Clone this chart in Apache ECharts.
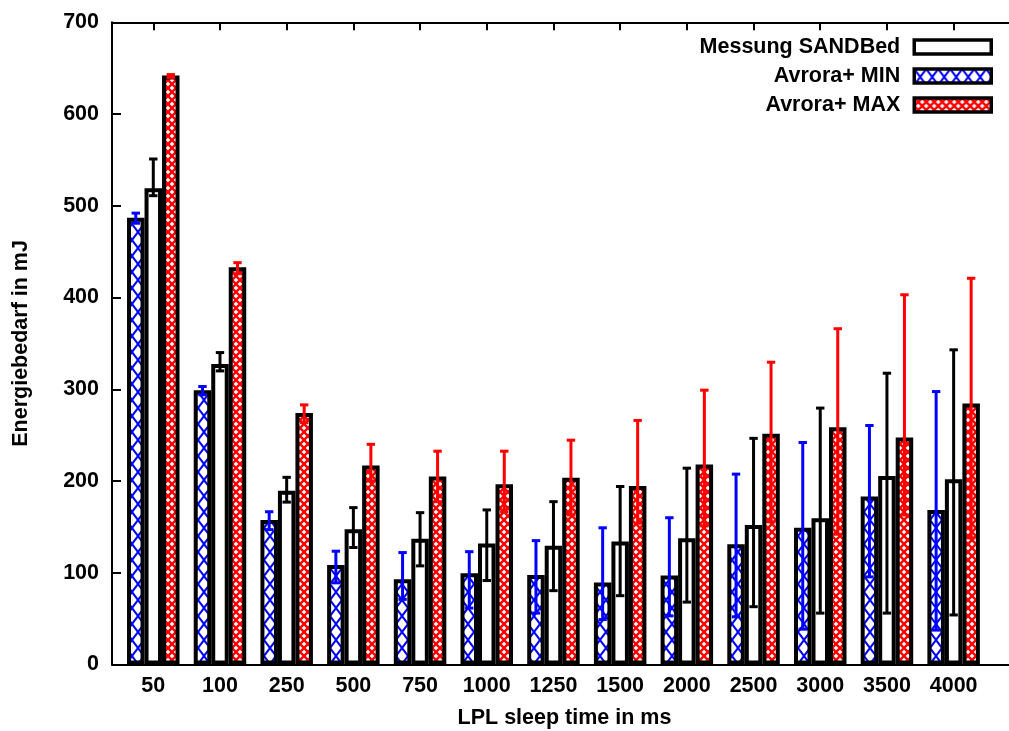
<!DOCTYPE html>
<html>
<head>
<meta charset="utf-8">
<script src="https://cdn.jsdelivr.net/npm/echarts@6/dist/echarts.min.js"></script>
<style>
  html, body { margin: 0; padding: 0; background: #fff; }
  #chart { width: 1009px; height: 731px; }
</style>
</head>
<body>
<div id="chart"></div>
<script>
// LPL sleep time categories (ms)
const categories = ['50', '100', '250', '500', '750', '1000', '1250', '1500', '2000', '2500', '3000', '3500', '4000'];

// Avrora+ MIN: mean energy and error range (mJ)
const minVals = [487, 299, 157.5, 108.5, 93, 99.5, 97.5, 89.5, 97, 131, 149, 183, 168.5];
const minLow  = [481, 294, 147, 89, 71, 61.5, 56, 49, 53, 52, 38.5, 95.5, 37.5];
const minHigh = [492, 303, 166.5, 123.5, 122, 123, 135, 149, 160, 207.5, 242, 260.5, 297.5];

// Messung SANDBed: measured energy and error range (mJ)
const sandVals = [519, 327.5, 189.5, 147.5, 137, 132, 129.5, 134, 137.5, 152, 159.5, 205.5, 202];
const sandLow  = [511, 320, 177, 127.5, 107.5, 91.5, 80.5, 75, 68, 63, 56, 56, 54];
const sandHigh = [551, 340, 204, 171, 165.5, 168.5, 177.5, 194, 214, 246.5, 279.5, 317.5, 343];

// Avrora+ MAX: mean energy and error range (mJ)
const maxVals = [642, 433, 274, 217, 205, 196.5, 203.5, 194.5, 218, 251.5, 258.5, 247.5, 284.5];
const maxLow  = [640, 426, 263.5, 200, 177.5, 166.5, 163, 154, 151, 155.5, 142, 163, 138];
const maxHigh = [643, 438, 283, 240, 232.5, 232.5, 244.5, 266, 299, 329.5, 366, 403, 421];

// Y axis ticks
const yTicks = [0, 100, 200, 300, 400, 500, 600, 700];

const FONT = "'Liberation Sans', Arial, Helvetica, sans-serif";
const FONT_SIZE = 21.5;
const BAR_W = 17.5;

// Hatch fill: blue diagonal cross on white
function makeCrossPattern() {
  const c = document.createElement('canvas');
  c.width = 12; c.height = 16;
  const g = c.getContext('2d');
  g.fillStyle = '#fff';
  g.fillRect(0, 0, 12, 16);
  g.strokeStyle = '#0000ff';
  g.lineWidth = 2;
  g.beginPath();
  g.moveTo(0, 0); g.lineTo(12, 16);
  g.moveTo(12, 0); g.lineTo(0, 16);
  g.stroke();
  return c;
}

// Hatch fill: dense red crosshatch leaving small white diamonds
function makeDensePattern() {
  const s = 8;
  const c = document.createElement('canvas');
  c.width = s; c.height = s;
  const g = c.getContext('2d');
  g.fillStyle = '#fff';
  g.fillRect(0, 0, s, s);
  g.strokeStyle = '#ff0000';
  g.lineWidth = 2.4;
  g.beginPath();
  g.moveTo(-1, -1); g.lineTo(s + 1, s + 1);
  g.moveTo(s + 1, -1); g.lineTo(-1, s + 1);
  g.stroke();
  return c;
}

const crossFill = { image: makeCrossPattern(), repeat: 'repeat' };
const denseFill = { image: makeDensePattern(), repeat: 'repeat' };

const idx = categories.map((_, i) => i);

function barSeries(name, vals, fill) {
  return {
    name: name,
    type: 'bar',
    barWidth: BAR_W,
    barGap: '0%',
    data: vals.map((v, i) => [i, v]),
    itemStyle: { color: fill, borderColor: '#000', borderWidth: 4 },
    emphasis: { disabled: true },
    z: 2
  };
}

function errorSeries(name, low, high, color, shift) {
  return {
    name: name,
    type: 'custom',
    data: low.map((l, i) => [i, l, high[i]]),
    encode: { x: 0, y: [1, 2] },
    z: 5,
    renderItem: function (params, api) {
      const x = api.value(0);
      const pLo = api.coord([x, api.value(1)]);
      const pHi = api.coord([x, api.value(2)]);
      const cx = pLo[0] + shift * BAR_W;
      const cap = 4.2;
      const style = { stroke: color, lineWidth: 3, fill: null };
      return {
        type: 'group',
        children: [
          { type: 'line', shape: { x1: cx, y1: pLo[1], x2: cx, y2: pHi[1] }, style: style },
          { type: 'line', shape: { x1: cx - cap, y1: pHi[1], x2: cx + cap, y2: pHi[1] }, style: style },
          { type: 'line', shape: { x1: cx - cap, y1: pLo[1], x2: cx + cap, y2: pLo[1] }, style: style }
        ]
      };
    }
  };
}

const xMin = -0.619, xMax = 12.95;
const labelStyle = { fontFamily: FONT, fontWeight: 'bold', fontSize: FONT_SIZE, color: '#000' };

const option = {
  animation: false,
  backgroundColor: '#fff',
  textStyle: { fontFamily: FONT },
  grid: { left: 112, top: 22.3, bottom: 66.5, right: -8, containLabel: false, outerBoundsMode: 'none' },
  legend: {
    orient: 'vertical',
    right: 16,
    top: 36,
    padding: 0,
    align: 'right',
    icon: 'rect',
    itemWidth: 77,
    itemHeight: 14,
    itemGap: 7,
    selectedMode: false,
    data: ['Messung SANDBed', 'Avrora+ MIN', 'Avrora+ MAX'],
    itemStyle: { borderColor: '#000', borderWidth: 3.5 },
    textStyle: Object.assign({}, labelStyle, { padding: [0, 9, 0, 0] })
  },
  xAxis: [
    {
      type: 'value',
      min: xMin,
      max: xMax,
      position: 'bottom',
      name: 'LPL sleep time in ms',
      nameLocation: 'middle',
      nameGap: 43,
      nameTextStyle: labelStyle,
      axisLine: { show: true, onZero: false, lineStyle: { color: '#000', width: 2 } },
      axisTick: { show: false },
      splitLine: { show: false },
      axisLabel: Object.assign({
        customValues: idx,
        formatter: v => categories[Math.round(v)],
        margin: 11
      }, labelStyle)
    },
    {
      type: 'value',
      min: xMin,
      max: xMax,
      position: 'top',
      axisLine: { show: true, onZero: false, lineStyle: { color: '#000', width: 2 } },
      axisTick: { show: true, inside: true, length: 8, customValues: idx, lineStyle: { color: '#000', width: 2 } },
      axisLabel: { show: false },
      splitLine: { show: false }
    }
  ],
  yAxis: {
    type: 'value',
    min: yTicks[0],
    max: yTicks[yTicks.length - 1],
    interval: 100,
    name: 'Energiebedarf in mJ',
    nameLocation: 'middle',
    nameGap: 80,
    nameTextStyle: labelStyle,
    axisLine: { show: true, onZero: false, lineStyle: { color: '#000', width: 2 } },
    axisTick: { show: true, inside: true, length: 9, lineStyle: { color: '#000', width: 2 } },
    splitLine: { show: false },
    axisLabel: Object.assign({ margin: 13 }, labelStyle)
  },
  series: [
    barSeries('Avrora+ MIN', minVals, crossFill),
    barSeries('Messung SANDBed', sandVals, '#ffffff'),
    barSeries('Avrora+ MAX', maxVals, denseFill),
    errorSeries('err-min', minLow, minHigh, '#0000ff', -1),
    errorSeries('err-sand', sandLow, sandHigh, '#000000', 0),
    errorSeries('err-max', maxLow, maxHigh, '#ff0000', 1)
  ]
};

const chart = echarts.init(document.getElementById('chart'), null, { renderer: 'canvas' });
chart.setOption(option);
</script>
</body>
</html>
